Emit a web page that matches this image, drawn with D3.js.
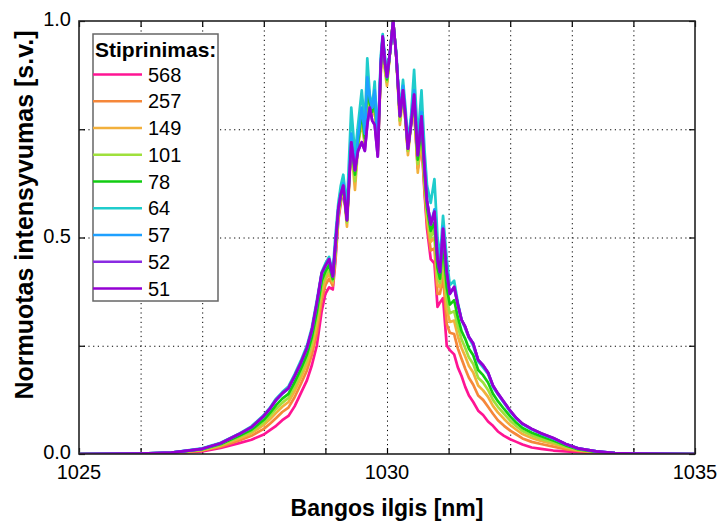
<!DOCTYPE html>
<html>
<head>
<meta charset="utf-8">
<script src="https://cdn.jsdelivr.net/npm/d3@7"></script>
<style>
  body { margin: 0; background: #fff; }
  svg { font-family: Arial, "Liberation Sans", sans-serif; }
  .grid line { stroke: #000; stroke-width: 1; stroke-dasharray: 1.2,3.5; }
  .grid path { display: none; }
  .ticks path { display: none; }
  .ticks line { stroke: #000; stroke-width: 1.2; }
</style>
</head>
<body>
<svg class="chart" width="720" height="527"></svg>
<script>
// wavelength grid (nm), shared by all series
const wavelength = [
  1025.0, 1026.0, 1026.5, 1027.0, 1027.3, 1027.6, 1027.8, 1028.0, 1028.1, 1028.2,
  1028.3, 1028.4, 1028.5, 1028.6, 1028.7, 1028.78, 1028.86, 1028.94, 1029.0, 1029.06,
  1029.12, 1029.16, 1029.21, 1029.25, 1029.29, 1029.35, 1029.42, 1029.48, 1029.53, 1029.59,
  1029.64, 1029.68, 1029.72, 1029.76, 1029.8, 1029.85, 1029.9, 1029.93, 1029.97, 1030.0,
  1030.05, 1030.1, 1030.15, 1030.21, 1030.26, 1030.3, 1030.34, 1030.39, 1030.44, 1030.5,
  1030.56, 1030.61, 1030.65, 1030.71, 1030.77, 1030.82, 1030.86, 1030.91, 1030.97, 1031.02,
  1031.09, 1031.15, 1031.21, 1031.27, 1031.33, 1031.4, 1031.48, 1031.56, 1031.64, 1031.72,
  1031.8, 1031.9, 1032.0, 1032.1, 1032.2, 1032.35, 1032.5, 1032.7, 1032.9, 1033.1,
  1033.4, 1033.7, 1034.0, 1035.0
];

// gain values (legend labels)
const gains = ['568', '257', '149', '101', '78', '64', '57', '52', '51'];
const colors = ['#ff1493', '#f5873a', '#f2b03c', '#9fe03c', '#12cc12', '#1fcccc', '#1ea0ff', '#8a2be2', '#9400d3'];

// normalised intensity per gain
const g568 = [
  0, 0, 0.001, 0.006, 0.014, 0.025, 0.033, 0.045, 0.055, 0.065,
  0.078, 0.088, 0.11, 0.14, 0.17, 0.205, 0.25, 0.33, 0.37, 0.385,
  0.38, 0.44, 0.54, 0.58, 0.61, 0.545, 0.72, 0.66, 0.72, 0.78,
  0.74, 0.875, 0.82, 0.80, 0.83, 0.72, 0.90, 0.95, 0.89, 0.86,
  0.93, 1.0, 0.92, 0.78, 0.84, 0.77, 0.70, 0.77, 0.80, 0.66,
  0.72, 0.60, 0.52, 0.45, 0.44, 0.34, 0.35, 0.36, 0.25, 0.24,
  0.23, 0.20, 0.18, 0.155, 0.135, 0.12, 0.10, 0.09, 0.075, 0.065,
  0.052, 0.042, 0.034, 0.028, 0.022, 0.015, 0.012, 0.008, 0.006, 0.004,
  0.002, 0.001, 0, 0
];
const g257 = [
  0, 0, 0.002, 0.008, 0.017, 0.031, 0.042, 0.058, 0.07, 0.083,
  0.097, 0.107, 0.131, 0.161, 0.193, 0.229, 0.279, 0.356, 0.39, 0.405,
  0.389, 0.452, 0.548, 0.586, 0.613, 0.54, 0.72, 0.65, 0.72, 0.78,
  0.73, 0.86, 0.80, 0.79, 0.82, 0.70, 0.89, 0.95, 0.89, 0.86,
  0.93, 1.0, 0.92, 0.77, 0.84, 0.77, 0.70, 0.765, 0.80, 0.66,
  0.73, 0.61, 0.535, 0.47, 0.475, 0.37, 0.37, 0.41, 0.30, 0.28,
  0.277, 0.244, 0.22, 0.197, 0.176, 0.16, 0.135, 0.125, 0.109, 0.093,
  0.078, 0.065, 0.054, 0.045, 0.036, 0.028, 0.023, 0.017, 0.011, 0.007,
  0.003, 0.001, 0, 0
];
const g149 = [
  0, 0.001, 0.002, 0.009, 0.020, 0.036, 0.048, 0.067, 0.08, 0.095,
  0.109, 0.12, 0.145, 0.175, 0.208, 0.246, 0.299, 0.374, 0.403, 0.418,
  0.395, 0.46, 0.553, 0.59, 0.615, 0.525, 0.71, 0.61, 0.71, 0.77,
  0.71, 0.85, 0.79, 0.78, 0.81, 0.69, 0.88, 0.95, 0.88, 0.85,
  0.93, 1.0, 0.92, 0.76, 0.83, 0.77, 0.69, 0.76, 0.80, 0.65,
  0.74, 0.62, 0.545, 0.49, 0.50, 0.39, 0.385, 0.44, 0.335, 0.305,
  0.308, 0.272, 0.245, 0.225, 0.203, 0.188, 0.158, 0.147, 0.132, 0.111,
  0.096, 0.081, 0.067, 0.056, 0.046, 0.037, 0.030, 0.023, 0.015, 0.009,
  0.004, 0.002, 0.001, 0
];
const g101 = [
  0, 0.001, 0.002, 0.010, 0.021, 0.039, 0.052, 0.073, 0.088, 0.104,
  0.118, 0.13, 0.156, 0.186, 0.219, 0.258, 0.314, 0.387, 0.412, 0.427,
  0.40, 0.466, 0.558, 0.593, 0.617, 0.535, 0.72, 0.63, 0.72, 0.78,
  0.72, 0.85, 0.80, 0.79, 0.82, 0.70, 0.89, 0.955, 0.89, 0.86,
  0.93, 1.0, 0.92, 0.77, 0.84, 0.775, 0.70, 0.76, 0.81, 0.67,
  0.75, 0.63, 0.56, 0.50, 0.52, 0.41, 0.395, 0.46, 0.36, 0.325,
  0.33, 0.294, 0.265, 0.245, 0.223, 0.208, 0.176, 0.165, 0.148, 0.125,
  0.109, 0.093, 0.077, 0.064, 0.053, 0.043, 0.035, 0.027, 0.017, 0.010,
  0.005, 0.002, 0.001, 0
];
const g78 = [
  0, 0.001, 0.003, 0.011, 0.023, 0.042, 0.056, 0.079, 0.095, 0.113,
  0.128, 0.139, 0.166, 0.196, 0.23, 0.27, 0.328, 0.40, 0.422, 0.437,
  0.404, 0.472, 0.562, 0.596, 0.618, 0.54, 0.73, 0.645, 0.72, 0.79,
  0.73, 0.86, 0.81, 0.79, 0.83, 0.71, 0.90, 0.96, 0.90, 0.865,
  0.93, 1.0, 0.92, 0.78, 0.845, 0.78, 0.705, 0.765, 0.82, 0.68,
  0.76, 0.645, 0.57, 0.515, 0.535, 0.43, 0.405, 0.49, 0.385, 0.345,
  0.355, 0.316, 0.284, 0.266, 0.243, 0.228, 0.194, 0.182, 0.165, 0.139,
  0.122, 0.104, 0.087, 0.072, 0.060, 0.049, 0.041, 0.031, 0.020, 0.011,
  0.005, 0.002, 0.001, 0
];
const g64 = [
  0, 0.001, 0.003, 0.013, 0.026, 0.047, 0.064, 0.09, 0.107, 0.128,
  0.143, 0.156, 0.184, 0.215, 0.25, 0.292, 0.354, 0.42, 0.44, 0.455,
  0.42, 0.50, 0.58, 0.62, 0.645, 0.57, 0.80, 0.69, 0.76, 0.84,
  0.76, 0.914, 0.83, 0.80, 0.86, 0.72, 0.92, 0.97, 0.91, 0.88,
  0.93, 0.99, 0.93, 0.79, 0.864, 0.80, 0.72, 0.78, 0.887, 0.725,
  0.84, 0.70, 0.62, 0.58, 0.635, 0.50, 0.45, 0.55, 0.45, 0.39,
  0.40, 0.35, 0.31, 0.29, 0.268, 0.25, 0.214, 0.20, 0.185, 0.155,
  0.138, 0.118, 0.098, 0.082, 0.069, 0.057, 0.047, 0.036, 0.023, 0.013,
  0.006, 0.002, 0.001, 0
];
const g57 = [
  0, 0.001, 0.003, 0.012, 0.025, 0.046, 0.061, 0.087, 0.104, 0.124,
  0.139, 0.151, 0.179, 0.209, 0.244, 0.285, 0.346, 0.416, 0.434, 0.449,
  0.41, 0.48, 0.567, 0.60, 0.625, 0.545, 0.74, 0.66, 0.73, 0.80,
  0.74, 0.87, 0.82, 0.80, 0.84, 0.72, 0.91, 0.965, 0.91, 0.87,
  0.93, 1.0, 0.92, 0.785, 0.85, 0.785, 0.71, 0.77, 0.84, 0.70,
  0.79, 0.665, 0.585, 0.53, 0.565, 0.455, 0.42, 0.525, 0.42, 0.37,
  0.385, 0.345, 0.31, 0.293, 0.27, 0.255, 0.216, 0.204, 0.187, 0.157,
  0.139, 0.119, 0.099, 0.082, 0.069, 0.057, 0.047, 0.036, 0.023, 0.013,
  0.006, 0.002, 0.001, 0
];
const g52 = [
  0, 0.001, 0.003, 0.012, 0.025, 0.046, 0.062, 0.088, 0.105, 0.125,
  0.14, 0.152, 0.18, 0.21, 0.245, 0.286, 0.348, 0.418, 0.435, 0.45,
  0.41, 0.48, 0.567, 0.60, 0.62, 0.54, 0.72, 0.655, 0.70, 0.72,
  0.70, 0.76, 0.80, 0.77, 0.76, 0.687, 0.90, 0.964, 0.90, 0.871,
  0.93, 1.0, 0.92, 0.78, 0.84, 0.78, 0.705, 0.76, 0.83, 0.69,
  0.78, 0.66, 0.583, 0.53, 0.56, 0.45, 0.42, 0.52, 0.42, 0.37,
  0.386, 0.345, 0.31, 0.294, 0.27, 0.255, 0.217, 0.205, 0.188, 0.158,
  0.14, 0.12, 0.10, 0.083, 0.07, 0.058, 0.048, 0.037, 0.023, 0.013,
  0.006, 0.002, 0.001, 0
];
const g51 = [
  0, 0.001, 0.003, 0.012, 0.025, 0.046, 0.062, 0.088, 0.105, 0.125,
  0.14, 0.152, 0.18, 0.21, 0.245, 0.286, 0.348, 0.418, 0.435, 0.45,
  0.41, 0.48, 0.567, 0.60, 0.62, 0.54, 0.72, 0.656, 0.70, 0.72,
  0.70, 0.76, 0.80, 0.77, 0.76, 0.687, 0.90, 0.964, 0.90, 0.871,
  0.93, 1.0, 0.92, 0.78, 0.84, 0.78, 0.705, 0.76, 0.83, 0.69,
  0.78, 0.66, 0.583, 0.53, 0.56, 0.45, 0.42, 0.52, 0.42, 0.37,
  0.386, 0.345, 0.31, 0.294, 0.27, 0.255, 0.217, 0.205, 0.188, 0.158,
  0.14, 0.12, 0.10, 0.083, 0.07, 0.058, 0.048, 0.037, 0.023, 0.013,
  0.006, 0.002, 0.001, 0
];
const seriesValues = [g568, g257, g149, g101, g78, g64, g57, g52, g51];

const xTickLabels = [1025, 1030, 1035];
const yTickLabels = [0, 0.5, 1.0];

const margin = { left: 79, right: 25, top: 21, bottom: 73 };
const svg = d3.select('svg.chart');
const width = 720 - margin.left - margin.right;
const height = 527 - margin.top - margin.bottom;

const chart = svg.append('g').attr('transform', `translate(${margin.left}, ${margin.top})`);

const xScale = d3.scaleLinear().domain([1025, 1035]).range([0, width]);
const yScale = d3.scaleLinear().domain([0, 1]).range([height, 0]);

// dotted grid
chart.append('g')
  .attr('class', 'grid')
  .call(d3.axisBottom(xScale).tickValues(d3.range(1026, 1035)).tickSize(height).tickFormat(''));
chart.append('g')
  .attr('class', 'grid')
  .call(d3.axisLeft(yScale).tickValues([0.25, 0.5, 0.75]).tickSize(-width).tickFormat(''));

// inner tick marks on all four sides
const xTicks = d3.range(1025, 1036);
const yTicks = [0, 0.25, 0.5, 0.75, 1];
chart.append('g').attr('class', 'ticks')
  .attr('transform', `translate(0, ${height})`)
  .call(d3.axisBottom(xScale).tickValues(xTicks).tickSize(-6).tickFormat(''));
chart.append('g').attr('class', 'ticks')
  .call(d3.axisTop(xScale).tickValues(xTicks).tickSize(-6).tickFormat(''));
chart.append('g').attr('class', 'ticks')
  .call(d3.axisLeft(yScale).tickValues(yTicks).tickSize(-6).tickFormat(''));
chart.append('g').attr('class', 'ticks')
  .attr('transform', `translate(${width}, 0)`)
  .call(d3.axisRight(yScale).tickValues(yTicks).tickSize(-6).tickFormat(''));

// tick labels
chart.append('g')
  .selectAll('text')
  .data(xTickLabels)
  .enter()
  .append('text')
  .attr('x', (d) => xScale(d))
  .attr('y', height + 25)
  .attr('text-anchor', 'middle')
  .attr('font-size', 20)
  .text((d) => d);
chart.append('g')
  .selectAll('text')
  .data(yTickLabels)
  .enter()
  .append('text')
  .attr('x', -8)
  .attr('y', (d) => yScale(d) + 5)
  .attr('text-anchor', 'end')
  .attr('font-size', 20)
  .text((d) => d3.format('.1f')(d));

// spectra
const clip = svg.append('clipPath').attr('id', 'plot-clip')
  .append('rect').attr('width', width).attr('height', height + 1).attr('y', -1);
const line = d3.line()
  .x((d) => xScale(d[0]))
  .y((d) => yScale(d[1]));
chart.append('g')
  .attr('clip-path', 'url(#plot-clip)')
  .selectAll('path')
  .data(seriesValues)
  .enter()
  .append('path')
  .attr('fill', 'none')
  .attr('stroke', (d, i) => colors[i])
  .attr('stroke-width', 2.7)
  .attr('stroke-linejoin', 'round')
  .attr('d', (vals) => line(vals.map((v, i) => [wavelength[i], v])));

// frame
chart.append('rect')
  .attr('width', width)
  .attr('height', height)
  .attr('fill', 'none')
  .attr('stroke', '#222')
  .attr('stroke-width', 1.6);

// legend
const legend = chart.append('g').attr('transform', 'translate(14, 13)');
legend.append('rect')
  .attr('width', 125)
  .attr('height', 267)
  .attr('fill', '#fff')
  .attr('stroke', '#666')
  .attr('stroke-width', 1.5);
legend.append('text')
  .attr('x', 2)
  .attr('y', 23)
  .attr('font-size', 21)
  .attr('font-weight', 'bold')
  .text('Stiprinimas:');
const rows = legend.selectAll('.row')
  .data(gains)
  .enter()
  .append('g')
  .attr('class', 'row')
  .attr('transform', (d, i) => `translate(0, ${40.5 + i * 26.75})`);
rows.append('line')
  .attr('x1', 0)
  .attr('x2', 49)
  .attr('stroke', (d, i) => colors[i])
  .attr('stroke-width', 2.4);
rows.append('text')
  .attr('x', 55)
  .attr('y', 7)
  .attr('font-size', 20)
  .text((d) => d);

// axis titles
svg.append('text')
  .attr('x', margin.left + width / 2)
  .attr('y', 516)
  .attr('text-anchor', 'middle')
  .attr('font-size', 23)
  .attr('font-weight', 'bold')
  .text('Bangos ilgis [nm]');
svg.append('text')
  .attr('transform', `translate(33, ${margin.top + 194}) rotate(-90)`)
  .attr('text-anchor', 'middle')
  .attr('font-size', 25)
  .attr('font-weight', 'bold')
  .text('Normuotas intensyvumas [s.v.]');
</script>
</body>
</html>
